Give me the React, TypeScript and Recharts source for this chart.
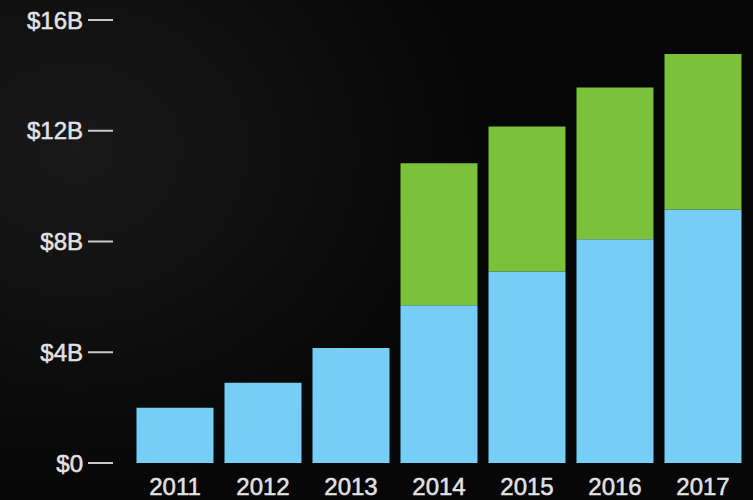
import React from 'react';
import { BarChart, Bar, XAxis, YAxis } from 'recharts';

// Years and revenue split (billions)
const years = ['2011', '2012', '2013', '2014', '2015', '2016', '2017'];
const baseValues = [2.0, 2.9, 4.15, 5.7, 6.92, 8.08, 9.16];
const addedValues = [0, 0, 0, 5.13, 5.23, 5.48, 5.61];
const yTicks = [0, 4, 8, 12, 16];

const data = years.map((year, i) => ({
  year,
  base: baseValues[i],
  added: addedValues[i] || null,
}));

const formatTick = (v: number) => (v === 0 ? '$0' : `$${v}B`);

const labelStyle = { fill: '#e2e2e2', fontSize: 24, stroke: '#e2e2e2', strokeWidth: 0.5 };

const App: React.FC = () => {
  return (
    <div
      style={{
        position: 'absolute',
        top: 0,
        left: 0,
        width: 753,
        height: 500,
        background:
          'radial-gradient(ellipse 55% 70% at 10% 30%, #191919 0%, #0f0f0f 50%, #060606 100%)',
        fontFamily: 'Arial, "Liberation Sans", sans-serif',
      }}
    >
      <BarChart
        width={753}
        height={500}
        data={data}
        margin={{ top: 20, right: 5, bottom: 0, left: 0 }}
        barCategoryGap={5.5}
      >
        <XAxis
          dataKey="year"
          axisLine={false}
          tickLine={false}
          tickSize={0}
          tickMargin={15}
          height={37}
          padding={{ left: 18, right: 1 }}
          interval={0}
          tick={labelStyle}
        />
        <YAxis
          domain={[0, 16]}
          ticks={yTicks}
          width={113}
          axisLine={false}
          tickSize={25}
          tickMargin={5}
          tickLine={{ stroke: '#c8c8c8', strokeWidth: 2 }}
          tickFormatter={formatTick}
          tick={labelStyle}
        />
        <Bar dataKey="base" stackId="a" fill="#76cdf6" isAnimationActive={false} />
        <Bar dataKey="added" stackId="a" fill="#7bc23a" isAnimationActive={false} />
      </BarChart>
    </div>
  );
};

export default App;
